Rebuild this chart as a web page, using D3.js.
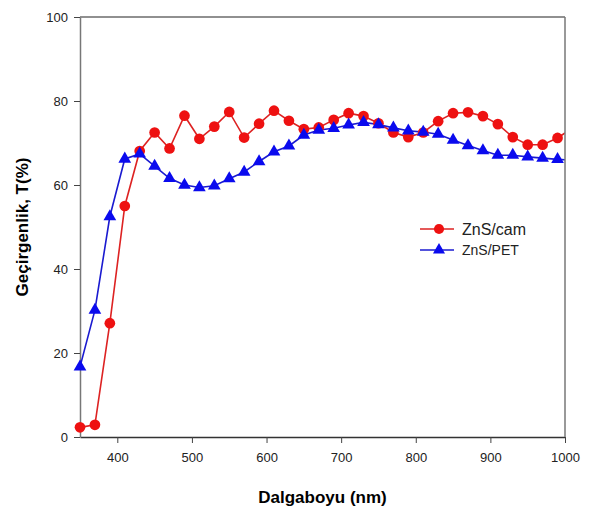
<!DOCTYPE html>
<html>
<head>
<meta charset="utf-8">
<script src="https://cdn.jsdelivr.net/npm/d3@7"></script>
<style>
  body { margin: 0; background: #fff; }
  text { font-family: Arial, "Liberation Sans", sans-serif; }
</style>
</head>
<body>
<div id="chart"></div>
<script>
const wavelengths = [350, 370, 390, 410, 430, 450, 470, 490, 510, 530, 550, 570, 590, 610, 630, 650, 670, 690,
                     710, 730, 750, 770, 790, 810, 830, 850, 870, 890, 910, 930, 950, 970, 990, 1000];
const znsCam = [2.3, 2.9, 27.1, 55.0, 68.1, 72.5, 68.7, 76.5, 71.0, 73.9, 77.4, 71.3, 74.6, 77.7, 75.3, 73.3, 73.7, 75.5,
                77.1, 76.4, 74.7, 72.5, 71.4, 72.5, 75.2, 77.1, 77.3, 76.4, 74.5, 71.4, 69.6, 69.6, 71.2, 72.4];
const znsPet = [16.7, 30.2, 52.5, 66.2, 67.4, 64.5, 61.6, 60.0, 59.4, 59.8, 61.5, 63.1, 65.6, 67.9, 69.3, 71.9, 73.1, 73.5,
                74.3, 74.9, 74.4, 73.6, 72.9, 72.6, 72.1, 70.7, 69.4, 68.2, 67.1, 67.1, 66.7, 66.4, 66.1, 66.0];
const xTicks = [400, 500, 600, 700, 800, 900, 1000];
const yTicks = [0, 20, 40, 60, 80, 100];

const W = 590, H = 514;
const margin = { top: 17, right: 25, bottom: 77, left: 80 };
const width = W - margin.left - margin.right,
      height = H - margin.top - margin.bottom;

const svg = d3.select("#chart")
    .append("svg")
    .attr("width", W)
    .attr("height", H);

const g = svg.append("g")
    .attr("transform", `translate(${margin.left},${margin.top})`);

const x = d3.scaleLinear().domain([350, 1000]).range([0, width]);
const y = d3.scaleLinear().domain([0, 100]).range([height, 0]);

// clip only the right edge (markers at 350 sit over the axis)
g.append("defs").append("clipPath").attr("id", "clip")
    .append("rect").attr("x", -20).attr("y", -20)
    .attr("width", width + 20).attr("height", height + 40);

// frame: top line
g.append("line").attr("x1", 0).attr("x2", width).attr("y1", 0).attr("y2", 0)
    .attr("stroke", "#222").attr("stroke-width", 1.2);

// Axes
const xAxis = g.append("g")
    .attr("transform", `translate(0,${height})`)
    .call(d3.axisBottom(x).tickValues(xTicks).tickFormat(d3.format("d"))
        .tickSize(6).tickSizeOuter(0).tickPadding(10));
const yAxis = g.append("g")
    .call(d3.axisLeft(y).tickValues(yTicks).tickSize(6).tickSizeOuter(0).tickPadding(6));

xAxis.select(".domain").attr("stroke", "#333").attr("stroke-width", 1.5);
yAxis.select(".domain").attr("stroke", "#777").attr("stroke-width", 1.5);
[xAxis, yAxis].forEach(a => {
    a.selectAll(".tick line").attr("stroke", "#444");
    a.selectAll(".tick text").style("font-size", "13px").attr("fill", "#222");
});

const series = [
    { name: "ZnS/cam", values: znsCam, color: "#ee1111", line: "#dd2222", shape: d3.symbolCircle, size: 90 },
    { name: "ZnS/PET", values: znsPet, color: "#0a0aee", line: "#1a1ad0", shape: d3.symbolTriangle, size: 70 }
];

const plot = g.append("g").attr("clip-path", "url(#clip)");

const lineGen = vals => d3.line()
    .x((d, i) => x(wavelengths[i]))
    .y(d => y(d))(vals);

series.forEach(s => {
    plot.append("path")
        .attr("fill", "none")
        .attr("stroke", s.line)
        .attr("stroke-width", 1.6)
        .attr("d", lineGen(s.values));
});

// markers (the line runs on to the 1000 nm edge; no marker drawn there)
series.forEach(s => {
    plot.selectAll(null)
        .data(s.values.map((v, i) => ({ w: wavelengths[i], v })).filter(d => d.w < 1000))
        .enter().append("path")
        .attr("d", d3.symbol().type(s.shape).size(s.size))
        .attr("transform", d => `translate(${x(d.w)},${y(d.v)})`)
        .attr("fill", s.color);
});

g.append("line").attr("x1", width).attr("x2", width).attr("y1", 0).attr("y2", height)
    .attr("stroke", "#777").attr("stroke-width", 1.5);

// Legend
const legend = g.append("g").attr("transform", `translate(${420 - margin.left}, ${229 - margin.top})`);
series.forEach((s, i) => {
    const row = legend.append("g").attr("transform", `translate(0, ${i * 21})`);
    row.append("line").attr("x1", 0).attr("x2", 34).attr("stroke", s.line).attr("stroke-width", 1.6);
    row.append("path").attr("d", d3.symbol().type(s.shape).size(s.size * 0.9))
        .attr("transform", "translate(19,0)").attr("fill", s.color);
    row.append("text").attr("x", 42).attr("y", i === 0 ? 6 : 5)
        .style("font-size", i === 0 ? "16px" : "14px").attr("fill", "#222").text(s.name);
});

// Axis titles
svg.append("text")
    .attr("x", margin.left + width / 2)
    .attr("y", 503)
    .attr("text-anchor", "middle")
    .style("font-size", "17px").style("font-weight", "bold")
    .text("Dalgaboyu (nm)");

svg.append("text")
    .attr("transform", `translate(28, ${margin.top + height / 2}) rotate(-90)`)
    .attr("text-anchor", "middle")
    .style("font-size", "17px").style("font-weight", "bold")
    .text("Geçirgenlik, T(%)");
</script>
</body>
</html>
